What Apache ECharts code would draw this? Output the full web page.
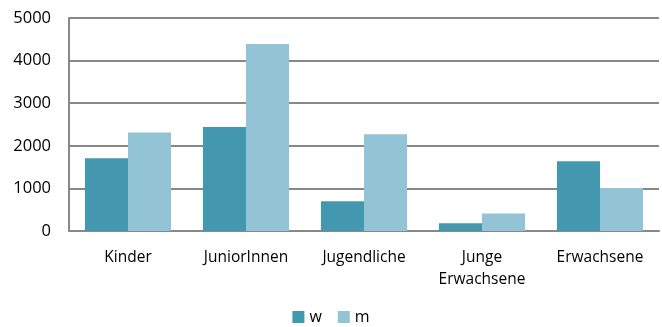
<!DOCTYPE html>
<html><head><meta charset="utf-8">
<script src="https://cdn.jsdelivr.net/npm/echarts@6/dist/echarts.min.js"></script>
<style>html,body{margin:0;padding:0;background:#fff}#c{width:662px;height:327px}</style>
</head><body><div id="c"></div>
<script>
const categories = ['Kinder', 'JuniorInnen', 'Jugendliche', 'Junge\nErwachsene', 'Erwachsene'];
const seriesW = [1710, 2440, 700, 180, 1640];
const seriesM = [2310, 4390, 2270, 410, 1010];
const seriesNames = ['w', 'm'];
const yTicks = { min: 0, max: 5000, interval: 1000 };

const font = '"Open Sans", sans-serif';
const chart = echarts.init(document.getElementById('c'), null, { renderer: 'canvas' });
chart.setOption({
  animation: false,
  textStyle: { fontFamily: font },
  grid: { left: 69, right: 3, top: 18, bottom: 96, containLabel: false },
  legend: {
    bottom: -3, left: 'center', itemWidth: 12, itemHeight: 12, itemGap: 16,
    icon: 'rect',
    textStyle: { fontFamily: font, fontSize: 16, color: '#000' },
    data: seriesNames
  },
  xAxis: {
    type: 'category', data: categories,
    axisLine: { lineStyle: { color: '#888', width: 2 } },
    axisTick: { show: false },
    axisLabel: { color: '#000', fontSize: 15.5, fontFamily: font, margin: 16, lineHeight: 22, interval: 0 }
  },
  yAxis: {
    type: 'value', min: yTicks.min, max: yTicks.max, interval: yTicks.interval,
    axisLine: { show: true, lineStyle: { color: '#888', width: 2 } },
    axisTick: { show: false },
    splitLine: { lineStyle: { color: '#888', width: 2 } },
    axisLabel: { color: '#000', fontSize: 16.5, fontFamily: font, margin: 18, formatter: v => String(v) }
  },
  series: [
    { name: seriesNames[0], type: 'bar', data: seriesW, barGap: '0%', barCategoryGap: '27%',
      itemStyle: { color: '#4398AF' } },
    { name: seriesNames[1], type: 'bar', data: seriesM, barGap: '0%', barCategoryGap: '27%',
      itemStyle: { color: '#93C4D6' } }
  ]
});
</script></body></html>
